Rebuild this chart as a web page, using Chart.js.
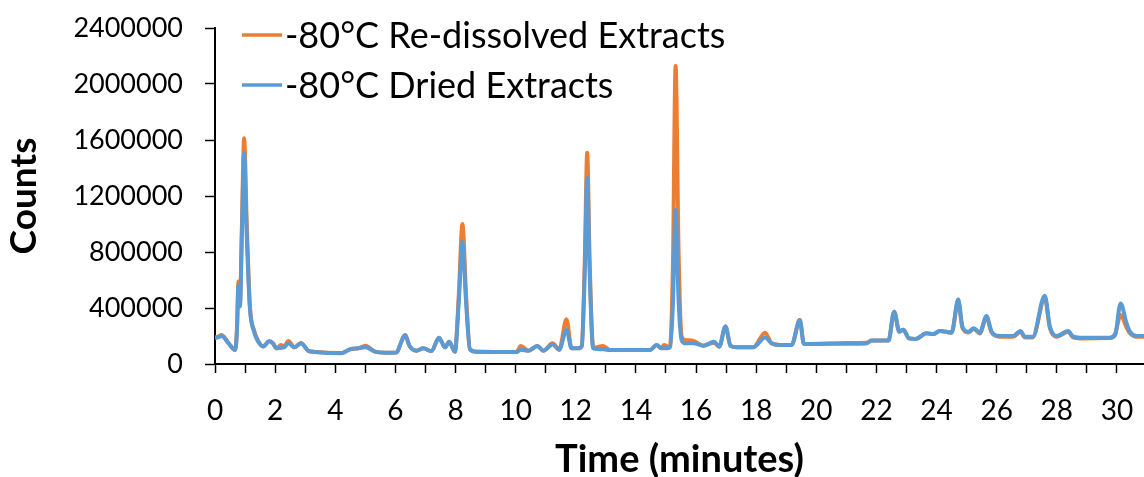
<!DOCTYPE html>
<html>
<head>
<meta charset="utf-8">
<script src="https://cdn.jsdelivr.net/npm/chart.js@4/dist/chart.umd.min.js"></script>
<style>
  html, body { margin: 0; padding: 0; background: #ffffff; }
  #wrap { width: 1144px; height: 477px; position: relative; }
</style>
</head>
<body>
<div id="wrap"><canvas id="chrom"></canvas></div>
<script>
// Series names shown in the legend
const seriesNames = ['-80°C Re-dissolved Extracts', '-80°C Dried Extracts'];

// Retention time (minutes)
const timeMin = [
  0.00, 0.10, 0.22, 0.45, 0.67, 0.73, 0.78, 0.83, 0.89, 0.97, 1.05, 1.16, 1.30, 1.45, 1.60,
  1.80, 1.92, 2.05, 2.19, 2.30, 2.44, 2.64, 2.86, 3.10, 3.33, 4.20, 4.49, 4.77, 5.01, 5.32,
  5.65, 6.04, 6.18, 6.32, 6.48, 6.70, 6.93, 7.20, 7.45, 7.65, 7.79, 7.98, 8.11, 8.23, 8.35,
  8.48, 8.70, 10.03, 10.17, 10.42, 10.72, 10.92, 11.23, 11.45, 11.69, 11.86, 12.08, 12.20, 12.30, 12.38,
  12.46, 12.58, 12.91, 13.14, 14.47, 14.69, 14.85, 14.93, 15.13, 15.23, 15.32, 15.42, 15.52, 15.63, 15.91,
  16.24, 16.60, 16.77, 16.98, 17.15, 17.35, 17.90, 18.30, 18.51, 18.79, 19.18, 19.45, 19.59, 19.79, 21.00,
  21.67, 21.84, 22.40, 22.59, 22.76, 22.89, 23.09, 23.30, 23.67, 23.89, 24.11, 24.50, 24.72, 24.86, 25.05,
  25.24, 25.44, 25.66, 25.83, 26.10, 26.55, 26.79, 26.94, 27.20, 27.60, 27.77, 27.99, 28.38, 28.54, 28.77,
  29.76, 29.94, 30.12, 30.32, 30.43, 30.65, 30.90
];

// Counts, -80°C re-dissolved extracts
const countsRedissolved = [
  190000, 195000, 207000, 150000, 100000, 250000, 590000, 430000, 950000, 1612000, 1050000, 420000, 240000, 160000, 125000,
  162000, 150000, 112000, 135000, 125000, 165000, 119000, 150000, 95000, 86000, 78000, 105000, 112000, 130000, 88000,
  81000, 82000, 150000, 207000, 125000, 95000, 112000, 92000, 188000, 119000, 159000, 88000, 500000, 1000000, 500000,
  105000, 88000, 86000, 129000, 95000, 129000, 95000, 148000, 102000, 319000, 112000, 112000, 130000, 750000, 1509000,
  750000, 115000, 129000, 100000, 100000, 136000, 112000, 136000, 119000, 700000, 2128000, 800000, 200000, 171000, 165000,
  131000, 152000, 124000, 267000, 129000, 119000, 119000, 224000, 148000, 136000, 136000, 314000, 143000, 143000, 150000,
  152000, 167000, 167000, 374000, 231000, 245000, 183000, 179000, 219000, 214000, 236000, 224000, 445000, 260000, 225000,
  250000, 218000, 335000, 225000, 195000, 195000, 230000, 190000, 190000, 470000, 255000, 195000, 230000, 190000, 183000,
  185000, 215000, 350000, 260000, 220000, 195000, 195000
];

// Counts, -80°C dried extracts
const countsDried = [
  185000, 190000, 200000, 148000, 100000, 240000, 560000, 410000, 880000, 1505000, 950000, 400000, 230000, 155000, 125000,
  162000, 148000, 112000, 115000, 118000, 148000, 119000, 148000, 95000, 86000, 76000, 105000, 112000, 120000, 88000,
  81000, 82000, 150000, 207000, 125000, 95000, 112000, 92000, 188000, 119000, 159000, 88000, 450000, 874000, 440000,
  105000, 88000, 86000, 102000, 95000, 129000, 95000, 140000, 102000, 243000, 112000, 112000, 128000, 660000, 1326000,
  660000, 112000, 105000, 100000, 100000, 136000, 112000, 112000, 119000, 420000, 1100000, 450000, 170000, 148000, 148000,
  131000, 159000, 124000, 267000, 129000, 119000, 119000, 190000, 148000, 136000, 136000, 314000, 143000, 143000, 145000,
  147000, 167000, 167000, 374000, 231000, 245000, 183000, 179000, 219000, 214000, 236000, 224000, 462000, 267000, 231000,
  255000, 224000, 343000, 231000, 200000, 200000, 236000, 195000, 195000, 488000, 267000, 200000, 236000, 195000, 188000,
  188000, 207000, 433000, 290000, 231000, 200000, 200000
];

// Axis tick values
const yTickValues = [0, 400000, 800000, 1200000, 1600000, 2000000, 2400000];
const xTickLabelValues = [0, 2, 4, 6, 8, 10, 12, 14, 16, 18, 20, 22, 24, 26, 28, 30];

const seriesColors = ['#ED7D31', '#5B9BD5'];
const FONT = 'Lato, "Open Sans", sans-serif';

const toPoints = (vals) => timeMin.map((t, i) => ({ x: t, y: vals[i] }));

// Legend drawn inside the plot area, upper left
const innerLegend = {
  id: 'innerLegend',
  afterDraw(chart) {
    const { ctx, chartArea } = chart;
    const x0 = chartArea.left + 27;
    const rows = [chartArea.top + 7, chartArea.top + 57];
    ctx.save();
    ctx.font = '36px ' + FONT;
    ctx.textBaseline = 'middle';
    ctx.fillStyle = '#000';
    seriesNames.forEach((name, i) => {
      ctx.strokeStyle = seriesColors[i];
      ctx.lineWidth = 3.5;
      ctx.beginPath();
      ctx.moveTo(x0, rows[i]);
      ctx.lineTo(x0 + 40, rows[i]);
      ctx.stroke();
      ctx.fillText(name, x0 + 43, rows[i] + 1);
    });
    ctx.restore();
  }
};

new Chart(document.getElementById('chrom'), {
  type: 'line',
  data: {
    datasets: [
      { label: seriesNames[0], data: toPoints(countsRedissolved), borderColor: seriesColors[0],
        borderWidth: 4, pointRadius: 0, cubicInterpolationMode: 'monotone', order: 2 },
      { label: seriesNames[1], data: toPoints(countsDried), borderColor: seriesColors[1],
        borderWidth: 4, pointRadius: 0, cubicInterpolationMode: 'monotone', order: 1 }
    ]
  },
  options: {
    responsive: true,
    maintainAspectRatio: false,
    animation: false,
    layout: { padding: { top: 28, right: 0, left: 0, bottom: 0 } },
    plugins: { legend: { display: false }, tooltip: { enabled: false } },
    scales: {
      x: {
        type: 'linear',
        min: 0,
        max: 30.9,
        afterFit(scale) {
          scale.height = 113;
          scale.paddingLeft = 0;
          scale.paddingRight = 0;
        },
        border: { color: '#000', width: 2 },
        grid: { drawOnChartArea: false, drawTicks: true, tickLength: 9, color: '#000', tickWidth: 1.5 },
        ticks: {
          stepSize: 1,
          autoSkip: false,
          includeBounds: false,
          maxRotation: 0,
          padding: 21,
          color: '#000',
          font: { family: FONT, size: 28 },
          callback: (v) => (xTickLabelValues.includes(v) ? String(v) : '')
        },
        title: {
          display: true,
          text: 'Time (minutes)',
          color: '#000',
          font: { family: FONT, size: 38, weight: 'bold', lineHeight: 0.9 },
          padding: { top: 0, bottom: 0 }
        }
      },
      y: {
        min: 0,
        max: 2400000,
        afterFit(scale) {
          scale.width = 215;
          scale.paddingTop = 0;
          scale.paddingBottom = 0;
        },
        afterBuildTicks(scale) { scale.ticks = yTickValues.map(v => ({ value: v })); },
        border: { color: '#000', width: 2 },
        grid: { drawOnChartArea: false, drawTicks: true, tickLength: 10, color: '#000', tickWidth: 1.5 },
        ticks: {
          padding: 22,
          color: '#000',
          font: { family: FONT, size: 27 },
          callback: (v) => String(v)
        },
        title: {
          display: true,
          text: 'Counts',
          color: '#000',
          font: { family: FONT, size: 37, weight: 'bold', lineHeight: 1.2 },
          padding: { top: 2, bottom: 0 }
        }
      }
    }
  },
  plugins: [innerLegend]
});
</script>
</body>
</html>
